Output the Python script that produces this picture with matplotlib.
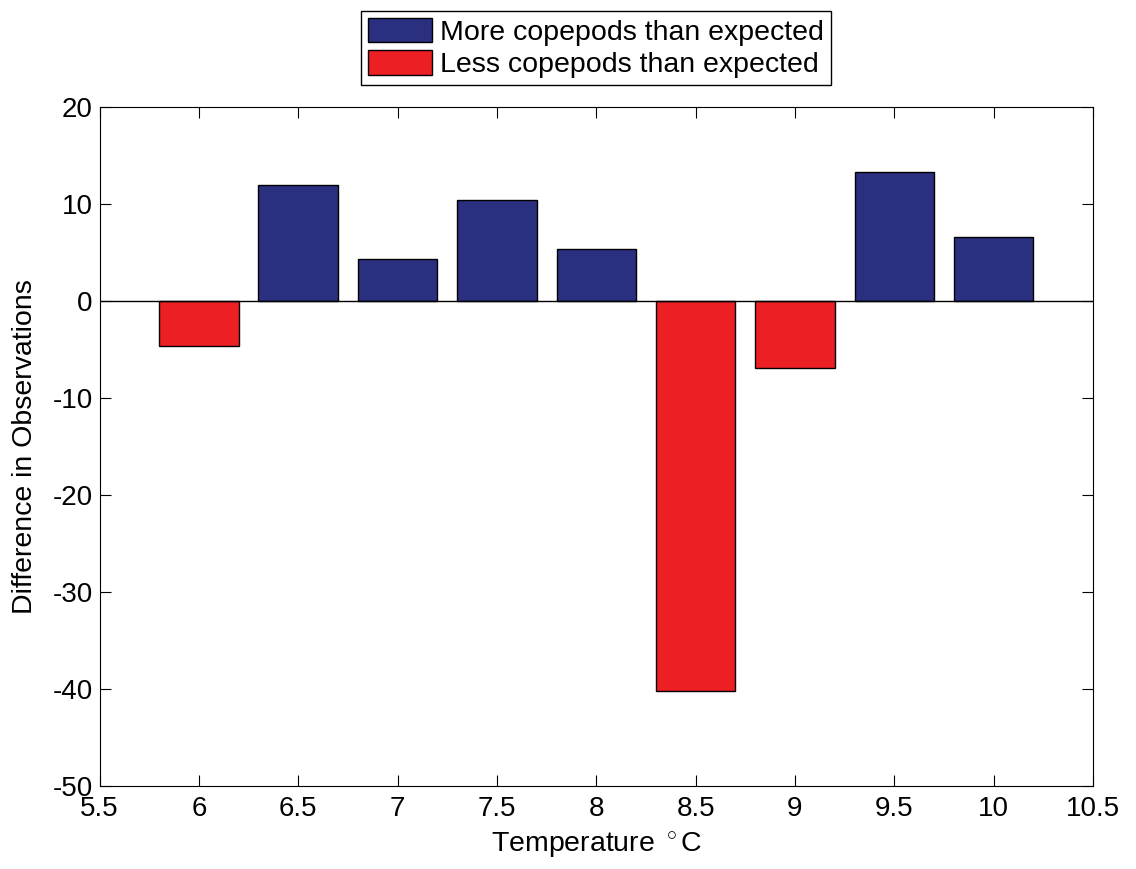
import numpy as np
import matplotlib.pyplot as pl

temps = np.array([6.0, 6.5, 7.0, 7.5, 8.0, 8.5, 9.0, 9.5, 10.0])
diffs = np.array([-4.6, 11.9, 4.3, 10.4, 5.35, -40.2, -6.9, 13.3, 6.6])
more_color = "#2a2f7f"
less_color = "#ec2024"

pl.rcParams["font.family"] = ["Liberation Sans", "DejaVu Sans"]
pl.rcParams["mathtext.fontset"] = "custom"
pl.rcParams["mathtext.rm"] = "Liberation Sans"
pl.rcParams["axes.unicode_minus"] = False
fontsize = 20

fig = pl.figure(figsize=(11.36, 8.69), dpi=100)
ax = fig.add_axes([0.0876, 0.0955, 0.8746, 0.7815])

pos = diffs >= 0
ax.bar(temps[pos], diffs[pos], width=0.4, color=more_color, edgecolor="black",
       linewidth=1, label="More copepods than expected", zorder=2)
ax.bar(temps[~pos], diffs[~pos], width=0.4, color=less_color, edgecolor="black",
       linewidth=1, label="Less copepods than expected", zorder=2)
ax.axhline(0, color="black", linewidth=1, zorder=3)

ax.set_xlim(5.5, 10.5)
ax.set_ylim(-50, 20)
ax.set_xticks(np.arange(5.5, 10.51, 0.5))
ax.set_xticklabels(["5.5", "6", "6.5", "7", "7.5", "8", "8.5", "9", "9.5", "10", "10.5"])
ax.set_yticks(np.arange(-50, 21, 10))
ax.tick_params(direction="in", top=True, right=True, length=8, width=0.8,
               labelsize=fontsize)
ax.tick_params(axis="x", pad=7)
ax.tick_params(axis="y", pad=5)
for spine in ax.spines.values():
    spine.set_linewidth(0.8)

ax.set_xlabel("Temperature $^\\circ$C", size=20.5, labelpad=6)
ax.set_ylabel("Difference in Observations", size=20.5, labelpad=10)

ax.legend(loc="lower center", bbox_to_anchor=(0.5, 1.032), fontsize=20.5,
          frameon=True, fancybox=False, edgecolor="black", framealpha=1,
          handlelength=2.25, handleheight=0.95, handletextpad=0.28,
          labelspacing=0.15, borderpad=0.25, borderaxespad=0)

fig.savefig("out.png", dpi=100)
